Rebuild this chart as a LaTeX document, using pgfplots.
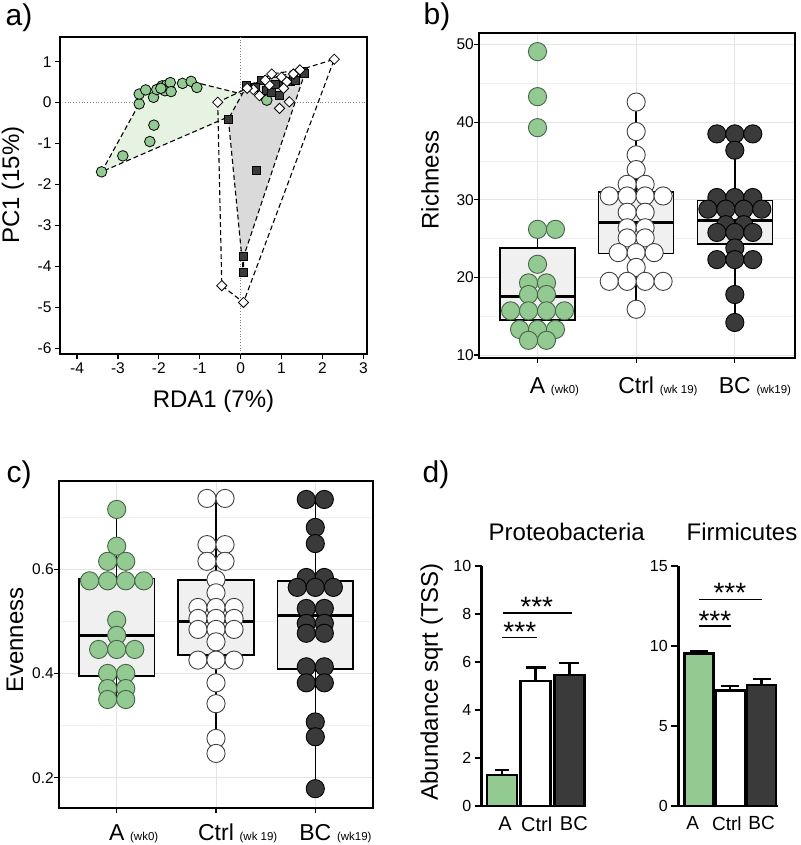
\documentclass[border=0pt]{standalone}
\usepackage{fontspec}
\setmainfont{Liberation Sans}
\usepackage{pgfplots}
\pgfplotsset{compat=1.18}
\usepgfplotslibrary{statistics}
\definecolor{grn}{RGB}{146,202,146}
\definecolor{grnedge}{RGB}{70,100,70}
\definecolor{drk}{RGB}{58,58,58}
\definecolor{boxfill}{RGB}{240,240,240}
\definecolor{gridc}{RGB}{228,228,228}
\definecolor{gridm}{RGB}{240,240,240}
\definecolor{hullg}{RGB}{230,242,226}
\definecolor{hullk}{RGB}{218,218,218}
\pgfplotsset{
  frame/.style={scale only axis, axis line style={line width=2.2pt}, tick style={line width=1.2pt, black},
    tick align=outside, major tick length=5pt, minor tick length=0pt, xtick pos=bottom, ytick pos=left,
    /pgf/number format/assume math mode=true,
    tick label style={font=\fontsize{15.5}{17}\selectfont},
    label style={font=\fontsize{24}{28}\selectfont}},
  dots/.style={only marks, mark=*, mark size=9.1pt, line width=0.9pt},
  bp/.style={boxplot prepared={#1, box extend=0.76, whisker extend=0, draw direction=y}, fill=boxfill, draw=black, line width=1.6pt, solid, mark=none},
  med/.style={line width=3pt, black},
  grd/.style={xmajorgrids, ymajorgrids, yminorgrids, major grid style={gridc, line width=0.8pt}, minor grid style={gridm, line width=0.8pt}},
  hull/.style={draw=black, dash pattern=on 5pt off 3pt, line width=1.1pt},
  eb/.style={error bars/.cd, y dir=plus, y explicit, error bar style={line width=2.4pt}, error mark options={rotate=90, line width=2.4pt, mark size=#1}},
}
\tikzset{catlab/.style={anchor=base, inner sep=0pt, font=\fontsize{23}{26}\selectfont}}
\newcommand{\sm}[1]{\rlap{\hspace{0.25em}\fontsize{11.5}{13}\selectfont #1}}
\begin{document}
\begin{tikzpicture}
\path[use as bounding box] (0pt,0pt) rectangle (800pt,-845pt);
% panel letters
\node[font=\fontsize{30}{34}\selectfont] at (19pt,-18pt) {a)};
\node[font=\fontsize{30}{34}\selectfont] at (437pt,-17pt) {b)};
\node[font=\fontsize{30}{34}\selectfont] at (19pt,-475pt) {c)};
\node[font=\fontsize{30}{34}\selectfont] at (436pt,-475pt) {d)};

% ---------- panel a ----------
\begin{axis}[frame, at={(60pt,-354pt)}, anchor=south west, width=307pt, height=317pt,
  xmin=-4.416, xmax=3.09, ymin=-6.139, ymax=1.603, xtick={-4,...,3}, ytick={-6,...,1},
  xlabel={RDA1 (7\%)}, ylabel={PC1 (15\%)},
  x label style={at={(axis description cs:0.5,-0.15)}, anchor=center},
  y label style={at={(axis description cs:-0.153,0.533)}, anchor=center}]
\addplot[gray, dotted, line width=0.8pt] coordinates {(0,-6.139) (0,1.603)};
\addplot[gray, dotted, line width=0.8pt] coordinates {(-4.3,0) (3.09,0)};
\addplot[fill=hullg, hull] coordinates {(-3.40,-1.69) (-2.48,-0.03) (-2.48,0.21) (-2.32,0.31) (-1.72,0.49) (-1.21,0.52) (0.64,0.06)} -- cycle;
\addplot[fill=hullk, hull] coordinates {(-0.30,-0.40) (0.067,-4.15) (0.075,-3.76) (1.57,0.72) (1.53,0.78) (0.52,0.55) (0.15,0.41)} -- cycle;
\addplot[hull] coordinates {(-0.56,0.01) (-0.46,-4.47) (0.07,-4.88) (2.29,1.06) (1.45,0.80) (0.76,0.70) (0.16,0.35)} -- cycle;
\addplot[only marks, mark=*, mark size=5.3pt, fill=grn, draw=black, line width=0.8pt] coordinates {
(-3.40,-1.69) (-2.88,-1.30) (-2.22,-0.95) (-2.12,-0.55) (-2.48,-0.03) (-2.48,0.21) (-2.32,0.31) (-2.13,0.13) (-2.05,0.32) (-1.92,0.41) (-1.81,0.43) (-1.85,0.29) (-1.72,0.49) (-1.70,0.27) (-1.42,0.47) (-1.21,0.52) (-1.07,0.37) (0.64,0.06) (-1.95,0.35)};
\addplot[only marks, mark=square*, mark size=4pt, fill=drk, draw=black, line width=0.8pt] coordinates {
(-0.30,-0.40) (0.38,-1.65) (0.075,-3.76) (0.067,-4.15) (0.95,0.17) (0.15,0.41) (0.52,0.55) (0.64,0.31) (0.85,0.45) (1.04,0.47) (1.21,0.51) (1.29,0.62) (1.53,0.76) (1.57,0.72) (0.35,0.38) (0.75,0.25) (1.35,0.55)};
\addplot[only marks, mark=square*, mark size=3.6pt, mark options={rotate=45}, fill=white, draw=black, line width=0.8pt] coordinates {
(-0.56,0.01) (-0.46,-4.47) (0.07,-4.88) (2.29,1.06) (1.45,0.80) (0.76,0.70) (1.0,0.62) (1.13,0.51) (0.70,0.43) (0.46,0.17) (0.31,0.32) (0.16,0.35) (0.95,-0.14) (1.19,0.02) (1.29,0.70) (0.6,0.55) (1.05,0.35)};
\end{axis}

% ---------- panel b ----------
\begin{axis}[frame, grd, at={(479.3pt,-357.7pt)}, anchor=south west, width=315.7pt, height=324.7pt,
  xmin=-0.59, xmax=2.61, ymin=9.66, ymax=51.5, ytick={10,20,...,50}, minor ytick={15,25,35,45},
  xtick={0,1,2}, xticklabels={}, clip=false,
  yticklabel style={xshift=3pt},
  ylabel={Richness}, y label style={at={(axis description cs:-0.156,0.547)}, anchor=center}]
\addplot[bp={median=17.5, upper quartile=23.8, lower quartile=14.5, upper whisker=26.2, lower whisker=11.9, draw position=0}] coordinates {};
\addplot[bp={median=27.05, upper quartile=31.0, lower quartile=23.1, upper whisker=42.6, lower whisker=15.9, draw position=1}] coordinates {};
\addplot[bp={median=27.35, upper quartile=29.9, lower quartile=24.3, upper whisker=38.5, lower whisker=14.2, draw position=2}] coordinates {};
\addplot[dots, fill=grn, draw=grnedge] coordinates {
(0,49.1) (0,43.3) (0,39.3) (0,26.2) (0.182,26.2) (0,21.7) (-0.091,19.3) (0.091,19.3) (-0.091,17.8) (0.091,17.8) (-0.273,15.7) (-0.091,15.7) (0.091,15.7) (0.273,15.7) (-0.182,13.3) (0,13.3) (0.182,13.3) (-0.091,11.9) (0.091,11.9)};
\addplot[dots, fill=white, draw=black!75] coordinates {
(1,42.6) (1,38.8) (1,35.8) (1,33.9) (0.909,32) (1.091,32) (0.727,30.5) (0.909,30.5) (1.091,30.5) (1.273,30.5) (0.909,28.4) (1.091,28.4) (0.909,26.4) (1.091,26.4) (0.909,25.1) (1.091,25.1) (0.818,23.2) (1,23.2) (1.182,23.2) (1,21.3) (0.727,19.5) (0.909,19.5) (1.091,19.5) (1.273,19.5) (1,15.9)};
\addplot[dots, fill=drk, draw=black] coordinates {
(1.818,38.5) (2,38.5) (2.182,38.5) (2,36.4) (1.818,30.3) (2,30.3) (2.182,30.3) (1.727,28.8) (1.909,28.8) (2.091,28.8) (2.273,28.8) (1.909,26.8) (2.091,26.8) (1.818,25.8) (2,25.8) (2.182,25.8) (2,23.8) (1.818,22.3) (2,22.3) (2.182,22.3) (2,17.8) (2,14.2)};
\addplot[med] coordinates {(-0.38,17.5) (0.38,17.5)};
\addplot[med] coordinates {(0.62,27.05) (1.38,27.05)};
\addplot[med] coordinates {(1.62,27.35) (2.38,27.35)};
\node[catlab, yshift=-35.6pt] at (axis cs:0,9.66) {A\sm{(wk0)}};
\node[catlab, yshift=-35.6pt] at (axis cs:1,9.66) {Ctrl\sm{(wk 19)}};
\node[catlab, yshift=-35.6pt] at (axis cs:2,9.66) {BC\sm{(wk19)}};
\end{axis}

% ---------- panel c ----------
\begin{axis}[frame, grd, at={(59.3pt,-807.7pt)}, anchor=south west, width=313.4pt, height=326.7pt,
  xmin=-0.578, xmax=2.578, ymin=0.1425, ymax=0.769, ytick={0.2,0.4,0.6}, minor ytick={0.3,0.5,0.7},
  yticklabel style={/pgf/number format/fixed, /pgf/number format/precision=1, xshift=3pt},
  xtick={0,1,2}, xticklabels={}, clip=false,
  ylabel={Evenness}, y label style={at={(axis description cs:-0.1414,0.513)}, anchor=center}]
\addplot[bp={median=0.473, upper quartile=0.582, lower quartile=0.395, upper whisker=0.7145, lower whisker=0.350, draw position=0}] coordinates {};
\addplot[bp={median=0.500, upper quartile=0.579, lower quartile=0.435, upper whisker=0.7356, lower whisker=0.2466, draw position=1}] coordinates {};
\addplot[bp={median=0.512, upper quartile=0.5776, lower quartile=0.408, upper whisker=0.7336, lower whisker=0.179, draw position=2}] coordinates {};
\addplot[dots, fill=grn, draw=grnedge] coordinates {
(0,0.7145) (0,0.644) (-0.091,0.615) (0.091,0.615) (-0.273,0.5776) (-0.091,0.5776) (0.091,0.5776) (0.273,0.5776) (0,0.502) (0,0.473) (-0.182,0.446) (0,0.446) (0.182,0.446) (-0.091,0.400) (0.091,0.400) (-0.091,0.371) (0.091,0.371) (-0.091,0.350) (0.091,0.350)};
\addplot[dots, fill=white, draw=black!75] coordinates {
(0.909,0.7356) (1.091,0.7356) (0.909,0.647) (1.091,0.647) (0.909,0.615) (1.091,0.615) (1,0.580) (1,0.5546) (0.818,0.5265) (1,0.5265) (1.182,0.5265) (0.818,0.5055) (1,0.5055) (1.182,0.5055) (0.818,0.4844) (1,0.4844) (1.182,0.4844) (1,0.4606) (0.818,0.4255) (1,0.4255) (1.182,0.4255) (1,0.382) (1,0.342) (1,0.2754) (1,0.2466)};
\addplot[dots, fill=drk, draw=black] coordinates {
(1.909,0.7336) (2.091,0.7336) (2,0.68) (2,0.649) (1.909,0.584) (2.091,0.584) (1.818,0.565) (2,0.565) (2.182,0.565) (1.909,0.5246) (2.091,0.5246) (1.909,0.496) (2.091,0.496) (1.909,0.477) (2.091,0.477) (1.909,0.4127) (2.091,0.4127) (1.909,0.382) (2.091,0.382) (2,0.307) (2,0.2785) (2,0.179)};
\addplot[med] coordinates {(-0.38,0.473) (0.38,0.473)};
\addplot[med] coordinates {(0.62,0.500) (1.38,0.500)};
\addplot[med] coordinates {(1.62,0.512) (2.38,0.512)};
\node[catlab, yshift=-33pt] at (axis cs:0,0.1425) {A\sm{(wk0)}};
\node[catlab, yshift=-33pt] at (axis cs:1,0.1425) {Ctrl\sm{(wk 19)}};
\node[catlab, yshift=-33pt] at (axis cs:2,0.1425) {BC\sm{(wk19)}};
\end{axis}

% ---------- panel d ----------
\node[font=\fontsize{24}{28}\selectfont] at (566.7pt,-531.7pt) {Proteobacteria};
\node[font=\fontsize{24}{28}\selectfont] at (742pt,-531.7pt) {Firmicutes};
\begin{axis}[scale only axis, at={(481.7pt,-806pt)}, anchor=south west, width=104.6pt, height=240.3pt,
  xmin=-0.6, xmax=2.5, ymin=0, ymax=10, axis lines*=left, axis line style={line width=2.6pt},
  ytick={0,2,...,10}, xtick={0.09,1.03,2.13}, xticklabels={A,Ctrl,BC},
  xtick style={draw=none}, ytick style={line width=2pt, black}, tick align=outside, major tick length=7pt,
  /pgf/number format/assume math mode=true,
  yticklabel style={font=\fontsize{16}{18}\selectfont},
  xticklabel style={font=\fontsize{20}{24}\selectfont},
  ylabel={Abundance sqrt (TSS)}, label style={font=\fontsize{24}{28}\selectfont},
  y label style={at={(axis description cs:-0.478,0.517)}, anchor=center},
  clip=false]
\addplot[ybar, bar width=30pt, bar shift=0pt, fill=grn, draw=black, line width=2.4pt, eb=7pt]
  coordinates {(0,1.3) +- (0,0.2)};
\addplot[ybar, bar width=30pt, bar shift=0pt, fill=white, draw=black, line width=2.4pt, eb=10pt]
  coordinates {(1,5.2) +- (0,0.56)};
\addplot[ybar, bar width=30pt, bar shift=0pt, fill=drk, draw=black, line width=2.4pt, eb=10pt]
  coordinates {(2,5.45) +- (0,0.51)};
\addplot[black, line width=1.5pt] coordinates {(0,7.02) (1.03,7.02)};
\addplot[black, line width=1.5pt] coordinates {(0.03,8.04) (2.07,8.04)};
\node[font=\fontsize{28}{30}\selectfont, anchor=base] at (axis cs:0.53,6.84) {***};
\node[font=\fontsize{28}{30}\selectfont, anchor=base] at (axis cs:1.03,7.88) {***};
\end{axis}
\begin{axis}[scale only axis, at={(678.3pt,-806pt)}, anchor=south west, width=99.5pt, height=240.3pt,
  xmin=-0.66, xmax=2.52, ymin=0, ymax=15, axis lines*=left, axis line style={line width=2.6pt},
  ytick={0,5,10,15}, xtick={-0.2,0.89,2.0}, xticklabels={A,Ctrl,BC},
  xtick style={draw=none}, ytick style={line width=2pt, black}, tick align=outside, major tick length=7pt,
  /pgf/number format/assume math mode=true,
  yticklabel style={font=\fontsize{16}{18}\selectfont},
  xticklabel style={font=\fontsize{19}{23}\selectfont},
  clip=false]
\addplot[ybar, bar width=29pt, bar shift=0pt, fill=grn, draw=black, line width=2.4pt, eb=9pt]
  coordinates {(0,9.53) +- (0,0.12)};
\addplot[ybar, bar width=29pt, bar shift=0pt, fill=white, draw=black, line width=2.4pt, eb=9pt]
  coordinates {(1,7.2) +- (0,0.3)};
\addplot[ybar, bar width=29pt, bar shift=0pt, fill=drk, draw=black, line width=2.4pt, eb=9pt]
  coordinates {(2,7.55) +- (0,0.38)};
\addplot[black, line width=1.5pt] coordinates {(0,11.25) (1.02,11.25)};
\addplot[black, line width=1.5pt] coordinates {(0,12.9) (2.03,12.9)};
\node[font=\fontsize{28}{30}\selectfont, anchor=base] at (axis cs:0.51,10.97) {***};
\node[font=\fontsize{28}{30}\selectfont, anchor=base] at (axis cs:0.99,12.72) {***};
\end{axis}
\end{tikzpicture}
\end{document}
